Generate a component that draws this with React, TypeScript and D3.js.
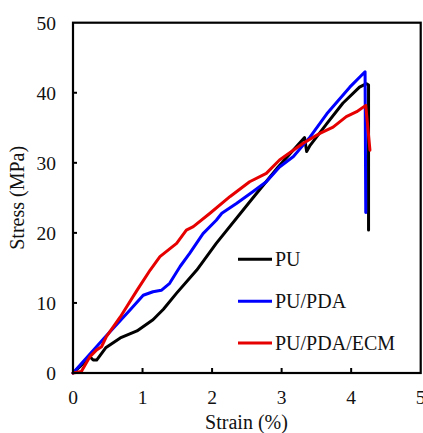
import React from 'react';
import { scaleLinear, line } from 'd3';

// strain (%), stress (MPa)
const puStrain = [0, 0.1, 0.24, 0.29, 0.34, 0.47, 0.68, 0.92, 1.15, 1.3, 1.49, 1.78, 2.06, 2.58, 2.95, 3.33, 3.36, 3.41, 3.65, 3.88, 4.12, 4.22, 4.25, 4.25];
const puStress = [0, 0.9, 2.35, 1.85, 1.85, 3.6, 5.0, 6.0, 7.6, 9.1, 11.4, 14.7, 18.5, 24.9, 29.4, 33.6, 31.6, 32.5, 35.6, 38.5, 40.8, 41.3, 41.1, 20.4];

const pdaStrain = [0, 0.45, 0.82, 1.01, 1.15, 1.27, 1.39, 1.54, 1.68, 1.87, 2.06, 2.14, 2.35, 2.59, 2.78, 2.97, 3.17, 3.41, 3.65, 3.98, 4.2, 4.21];
const pdaStress = [0, 5.0, 9.0, 11.1, 11.6, 11.8, 12.8, 15.2, 17.1, 19.9, 21.8, 22.8, 24.2, 25.9, 27.3, 29.4, 30.9, 33.7, 37.0, 40.8, 43.0, 22.9];

const ecmStrain = [0, 0.12, 0.24, 0.34, 0.41, 0.48, 0.68, 0.92, 1.11, 1.25, 1.49, 1.63, 1.73, 1.97, 2.26, 2.54, 2.78, 2.97, 3.31, 3.55, 3.74, 3.93, 4.08, 4.21, 4.27];
const ecmStress = [0, 0.2, 2.3, 3.3, 3.75, 5.2, 8.0, 11.8, 14.7, 16.6, 18.5, 20.4, 20.9, 22.8, 25.2, 27.3, 28.5, 30.4, 32.8, 34.2, 35.1, 36.6, 37.3, 38.2, 31.8];

const seriesNames = ['PU', 'PU/PDA', 'PU/PDA/ECM'];
const seriesColors = ['#000000', '#0000ff', '#e60000'];

const xTicks = [0, 1, 2, 3, 4, 5];
const yTicks = [0, 10, 20, 30, 40, 50];

export default function App() {
  const width = 423;
  const height = 433;
  const margin = { left: 73, top: 22.7, right: 2.3, bottom: 60 };
  const x = scaleLinear().domain([0, 5]).range([margin.left, width - margin.right]);
  const y = scaleLinear().domain([0, 50]).range([height - margin.bottom, margin.top]);

  const series = [
    { xs: puStrain, ys: puStress },
    { xs: pdaStrain, ys: pdaStress },
    { xs: ecmStrain, ys: ecmStress },
  ];
  const lineGen = line<[number, number]>()
    .x(d => x(d[0]))
    .y(d => y(d[1]));

  const textStyle = {
    fontFamily: "'Liberation Serif', 'Times New Roman', Times, Tinos, 'Noto Serif', 'DejaVu Serif', FreeSerif, serif",
  };

  return (
    <svg width={width} height={height} style={{ position: 'absolute', left: 0, top: 0, background: '#fff' }}>
      {/* curves */}
      {[0, 1, 2].map(i => (
        <path
          key={seriesNames[i]}
          d={lineGen(series[i].xs.map((v, j) => [v, series[i].ys[j]] as [number, number])) || ''}
          fill="none"
          stroke={seriesColors[i]}
          strokeWidth={3}
          strokeLinejoin="round"
          strokeLinecap="round"
        />
      ))}

      {/* frame */}
      <rect
        x={x(0)}
        y={y(50)}
        width={x(5) - x(0)}
        height={y(0) - y(50)}
        fill="none"
        stroke="#000"
        strokeWidth={2.2}
      />

      {/* inward ticks */}
      {yTicks.slice(1, -1).map(t => (
        <line key={'yt' + t} x1={x(0)} x2={x(0) + 4} y1={y(t)} y2={y(t)} stroke="#000" strokeWidth={2} />
      ))}
      {xTicks.slice(1, -1).map(t => (
        <line key={'xt' + t} x1={x(t)} x2={x(t)} y1={y(0)} y2={y(0) - 5} stroke="#000" strokeWidth={2} />
      ))}

      {/* tick labels */}
      {yTicks.map(t => (
        <text key={'yl' + t} x={x(0) - 17} y={y(t)} dy="0.35em" textAnchor="end" fontSize={19.5} style={textStyle} fill="#111">
          {t}
        </text>
      ))}
      {xTicks.map(t => (
        <text key={'xl' + t} x={x(t)} y={y(0) + 31} textAnchor="middle" fontSize={19.5} style={textStyle} fill="#111">
          {t}
        </text>
      ))}

      {/* axis titles */}
      <text x={246.5} y={429} textAnchor="middle" fontSize={20} style={textStyle} fill="#111">
        Strain (%)
      </text>
      <text
        x={17}
        y={(y(0) + y(50)) / 2}
        textAnchor="middle"
        dy="0.35em"
        fontSize={20}
        style={textStyle}
        fill="#111"
        transform={`rotate(-90, 17, ${(y(0) + y(50)) / 2})`}
      >
        Stress (MPa)
      </text>

      {/* legend */}
      {seriesNames.map((name, i) => {
        const ly = 259.3 + i * 41.9;
        return (
          <g key={'lg' + name}>
            <line x1={238} x2={272} y1={ly} y2={ly} stroke={seriesColors[i]} strokeWidth={3} />
            <text x={275} y={ly + 7} fontSize={20} style={textStyle} fill="#111">
              {name}
            </text>
          </g>
        );
      })}
    </svg>
  );
}
